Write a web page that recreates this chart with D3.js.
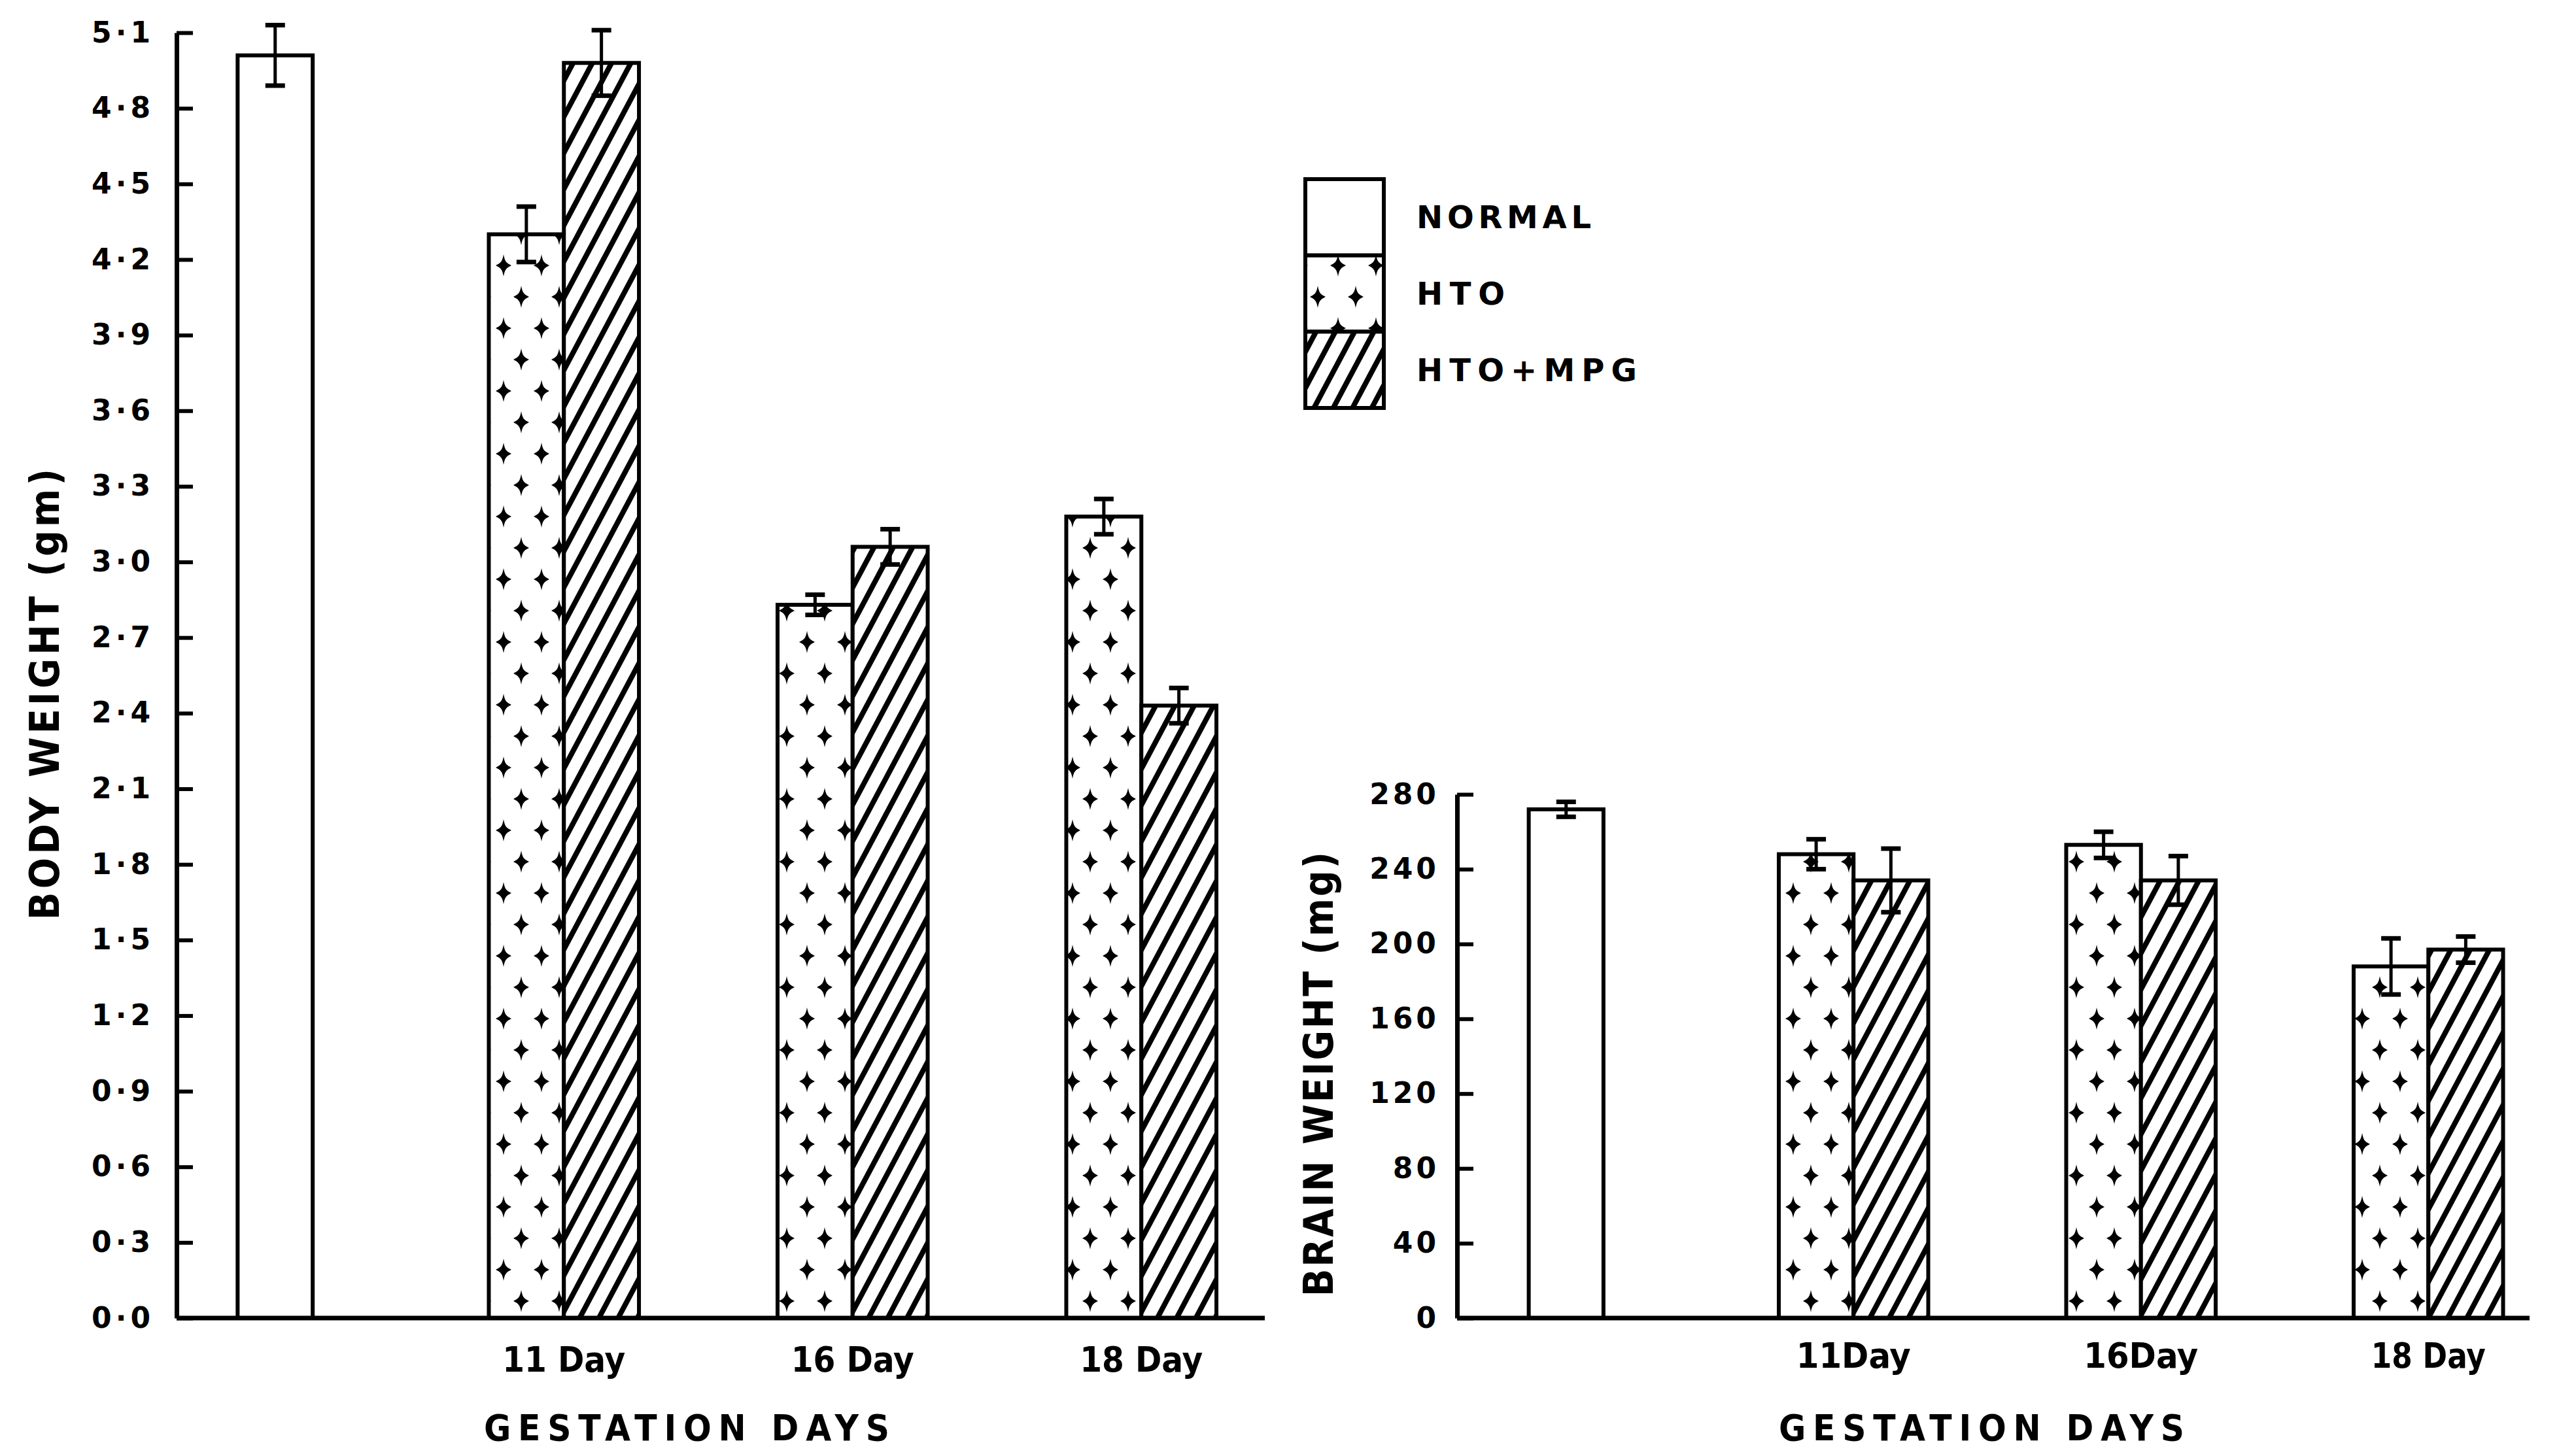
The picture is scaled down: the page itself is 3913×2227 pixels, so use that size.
<!DOCTYPE html>
<html><head><meta charset="utf-8">
<script src="https://cdn.jsdelivr.net/npm/d3@7/dist/d3.min.js"></script>
<style>
html,body{margin:0;padding:0;background:#fff;}
svg{display:block;background:#fff;}
text{font-family:"DejaVu Sans",sans-serif;font-weight:bold;fill:#000;}
.cond{font-family:"DejaVu Sans Condensed","Liberation Sans Narrow","DejaVu Sans",sans-serif;}
</style></head><body>
<svg id="chart" width="3913" height="2227"></svg>
<script>
// ---------- DATA ----------
const groups = ["NORMAL", "11 Day", "16 Day", "18 Day"];
const days = ["11 Day", "16 Day", "18 Day"];
const brainDayLabels = ["11Day", "16Day", "18 Day"];
const series = ["NORMAL", "HTO", "HTO+MPG"];

const bodyNormal = 5.01, bodyNormalErr = 0.12;
const bodyHTO = [4.30, 2.83, 3.18];
const bodyHTOErr = [0.11, 0.04, 0.07];
const bodyMPG = [4.98, 3.06, 2.43];
const bodyMPGErr = [0.13, 0.07, 0.07];
const bodyTicks = [0, 0.3, 0.6, 0.9, 1.2, 1.5, 1.8, 2.1, 2.4, 2.7, 3.0, 3.3, 3.6, 3.9, 4.2, 4.5, 4.8, 5.1];
const bodyTickLabels = ["0·0","0·3","0·6","0·9","1·2","1·5","1·8","2·1","2·4","2·7","3·0","3·3","3·6","3·9","4·2","4·5","4·8","5·1"];

const brainNormal = 272, brainNormalErr = 4;
const brainHTO = [248, 253, 188];
const brainHTOErr = [8, 7, 15];
const brainMPG = [234, 234, 197];
const brainMPGErr = [17, 13, 7];
const brainTicks = [0, 40, 80, 120, 160, 200, 240, 280];
const brainTickLabels = ["0", "40", "80", "120", "160", "200", "240", "280"];

// ---------- SETUP ----------
const svg = d3.select("#chart");
const defs = svg.append("defs");

const hatch = defs.append("pattern").attr("id", "hatch")
  .attr("patternUnits", "userSpaceOnUse").attr("width", 26).attr("height", 26)
  .attr("patternTransform", "rotate(28)");
hatch.append("rect").attr("width", 26).attr("height", 26).attr("fill", "#fff");
hatch.append("line").attr("x1", 13).attr("x2", 13).attr("y1", -2).attr("y2", 28)
  .attr("stroke", "#000").attr("stroke-width", 8);

const starPath = "M0,-17 C2,-6 4,-4 12,0 C4,4 2,6 0,17 C-2,6 -4,4 -12,0 C-4,-4 -2,-6 0,-17Z";
const stars = defs.append("pattern").attr("id", "stars")
  .attr("patternUnits", "userSpaceOnUse").attr("width", 58).attr("height", 96);
stars.append("rect").attr("width", 58).attr("height", 96).attr("fill", "#fff");
stars.append("path").attr("d", starPath).attr("transform", "translate(16,22)").attr("fill", "#000");
stars.append("path").attr("d", starPath).attr("transform", "translate(43,70)").attr("fill", "#000");

const fillFor = {"NORMAL": "#fff", "HTO": "url(#stars)", "HTO+MPG": "url(#hatch)"};

function drawChart(cfg) {
  const g = svg.append("g");
  const y = d3.scaleLinear().domain(cfg.yDomain).range(cfg.yRange);
  const x = d3.scaleBand().domain(groups).range(cfg.xRange).paddingInner(0).paddingOuter(0);
  const bw = x.bandwidth() * 0.26;
  const sub = d3.scaleBand().domain(["HTO", "HTO+MPG"]).range([-bw, bw]);

  const bars = [{group: "NORMAL", key: "NORMAL", value: cfg.normal, err: cfg.normalErr}];
  days.forEach((d, i) => {
    bars.push({group: d, key: "HTO", value: cfg.hto[i], err: cfg.htoErr[i]});
    bars.push({group: d, key: "HTO+MPG", value: cfg.mpg[i], err: cfg.mpgErr[i]});
  });
  const cx = d => x(d.group) + x.bandwidth() / 2;
  const bx = d => d.key === "NORMAL" ? cx(d) - bw / 2 : cx(d) + sub(d.key);

  // bars
  g.selectAll("rect.bar").data(bars).join("rect").attr("class", "bar")
    .attr("x", bx).attr("width", bw)
    .attr("y", d => y(d.value)).attr("height", d => y(0) - y(d.value))
    .attr("fill", d => fillFor[d.key]).attr("stroke", "#000").attr("stroke-width", 6);

  // error bars
  const eb = g.selectAll("g.err").data(bars).join("g").attr("class", "err");
  eb.append("line").attr("x1", d => bx(d) + bw / 2).attr("x2", d => bx(d) + bw / 2)
    .attr("y1", d => y(d.value + d.err)).attr("y2", d => y(d.value - d.err))
    .attr("stroke", "#000").attr("stroke-width", 5);
  [1, -1].forEach(s => {
    eb.append("line").attr("x1", d => bx(d) + bw / 2 - 15).attr("x2", d => bx(d) + bw / 2 + 15)
      .attr("y1", d => y(d.value + s * d.err)).attr("y2", d => y(d.value + s * d.err))
      .attr("stroke", "#000").attr("stroke-width", 7);
  });

  // x baseline
  g.append("line").attr("x1", cfg.axisX).attr("x2", cfg.axisEnd)
    .attr("y1", y(0)).attr("y2", y(0)).attr("stroke", "#000").attr("stroke-width", 7);

  // y axis
  const ya = g.append("g").attr("transform", `translate(${cfg.axisX},0)`)
    .call(d3.axisLeft(y).tickValues(cfg.ticks).tickFormat((d, i) => cfg.tickLabels[i])
      .tickSize(-25).tickSizeOuter(0).tickPadding(cfg.tickPad));
  ya.select(".domain").attr("stroke-width", 7);
  ya.selectAll(".tick line").attr("stroke-width", 6);
  ya.selectAll(".tick text").attr("font-size", 44).attr("letter-spacing", cfg.ls)
    .style("font-family", "DejaVu Sans").style("font-weight", "bold");

  // x labels
  const xa = g.append("g").attr("transform", `translate(0,${cfg.xLabelY})`)
    .call(d3.axisBottom(x).tickValues(days).tickFormat((d, i) => cfg.dayLabels[i]).tickSize(0).tickPadding(0));
  xa.select(".domain").remove();
  xa.selectAll(".tick text").attr("class", "cond").attr("dy", 0).attr("y", 0)
    .attr("font-size", 54).attr("textLength", cfg.dayLabelLen).attr("lengthAdjust", "spacingAndGlyphs")
    .style("font-weight", "bold");

  // axis titles
  g.append("text").attr("class", "cond")
    .attr("transform", `translate(${cfg.titleX},${cfg.titleY}) rotate(-90)`)
    .attr("text-anchor", "middle").attr("font-size", 62)
    .attr("textLength", cfg.titleLen).attr("lengthAdjust", "spacing")
    .text(cfg.title);
  g.append("text").attr("class", "cond")
    .attr("x", cfg.xTitleX).attr("y", 2203).attr("text-anchor", "middle")
    .attr("font-size", 56).attr("textLength", 620).attr("lengthAdjust", "spacing")
    .text("GESTATION DAYS");
}

drawChart({
  yDomain: [0, 5.1], yRange: [2016, 50], xRange: [200, 1966],
  axisX: 270, axisEnd: 1934, ticks: bodyTicks, tickLabels: bodyTickLabels, tickPad: 34, ls: 6,
  normal: bodyNormal, normalErr: bodyNormalErr, hto: bodyHTO, htoErr: bodyHTOErr, mpg: bodyMPG, mpgErr: bodyMPGErr,
  dayLabels: days, dayLabelLen: 188, xLabelY: 2098,
  title: "BODY WEIGHT (gm)", titleX: 90, titleY: 1062, titleLen: 690, xTitleX: 1050
});
drawChart({
  yDomain: [0, 280], yRange: [2016, 1215], xRange: [2175, 3933],
  axisX: 2228, axisEnd: 3868, ticks: brainTicks, tickLabels: brainTickLabels, tickPad: 27, ls: 5,
  normal: brainNormal, normalErr: brainNormalErr, hto: brainHTO, htoErr: brainHTOErr, mpg: brainMPG, mpgErr: brainMPGErr,
  dayLabels: brainDayLabels, dayLabelLen: 175, xLabelY: 2092,
  title: "BRAIN WEIGHT (mg)", titleX: 2038, titleY: 1643, titleLen: 680, xTitleX: 3030
});

// ---------- LEGEND ----------
const lg = svg.append("g");
const ly = d3.scaleBand().domain(series).range([274, 624]);
const legendLen = {"NORMAL": 267, "HTO": 135, "HTO+MPG": 337};
lg.selectAll("rect").data(series).join("rect")
  .attr("x", 1996).attr("width", 120).attr("y", d => ly(d)).attr("height", ly.bandwidth())
  .attr("fill", d => fillFor[d]).attr("stroke", "#000").attr("stroke-width", 6);
lg.selectAll("text").data(series).join("text")
  .attr("x", 2166).attr("y", d => ly(d) + ly.bandwidth() / 2 + 17)
  .attr("font-size", 48).attr("textLength", d => legendLen[d]).attr("lengthAdjust", "spacing")
  .text(d => d);
</script>
</body></html>
